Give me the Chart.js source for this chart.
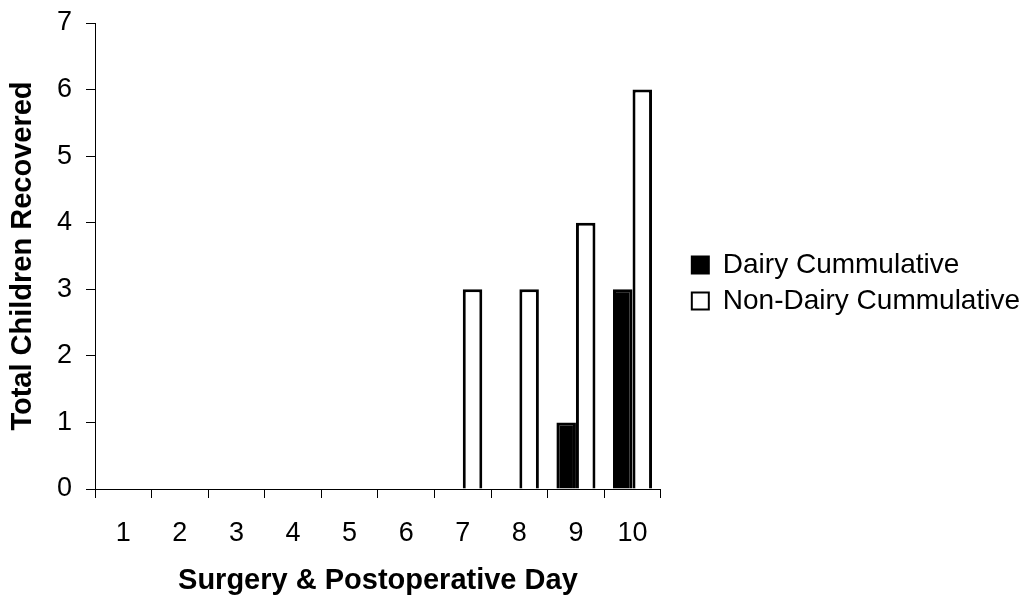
<!DOCTYPE html>
<html>
<head>
<meta charset="utf-8">
<script src="https://cdn.jsdelivr.net/npm/chart.js@4"></script>
<style>
  html, body { margin: 0; padding: 0; background: #fff; }
  #wrap { width: 1036px; height: 603px; }
</style>
</head>
<body>
<div id="wrap"><canvas id="myChart"></canvas></div>
<script>
const days = ['1', '2', '3', '4', '5', '6', '7', '8', '9', '10']
const dairy = [0, 0, 0, 0, 0, 0, 0, 0, 1, 3] // Dairy Cummulative
const nonDairy = [0, 0, 0, 0, 0, 0, 3, 3, 4, 6] // Non-Dairy Cummulative
const yTicks = [0, 1, 2, 3, 4, 5, 6, 7]

const FONT = 'Arial, "Liberation Sans", Helvetica, sans-serif'
Chart.defaults.font.family = FONT
Chart.defaults.color = '#000'

// nudge the legend block to where the original sits
const legendShift = { x: 23, y: -30 }
const moveLegend = {
  id: 'moveLegend',
  afterLayout(chart) {
    const lg = chart.legend
    lg.left += legendShift.x; lg.right += legendShift.x
    lg.top += legendShift.y; lg.bottom += legendShift.y
  }
}

const noZero = (c) => (c.raw === 0 ? 0 : 3)

const ctx = document.getElementById('myChart')

new Chart(ctx, {
  type: 'bar',
  data: {
    labels: days,
    datasets: [{
      label: 'Dairy Cummulative',
      data: dairy,
      backgroundColor: '#000',
      borderColor: '#000',
      borderWidth: noZero,
      borderSkipped: 'start'
    }, {
      label: 'Non-Dairy Cummulative',
      data: nonDairy,
      backgroundColor: '#fff',
      borderColor: '#000',
      borderWidth: noZero,
      borderSkipped: 'start'
    }]
  },
  options: {
    responsive: true,
    maintainAspectRatio: false,
    animation: false,
    barPercentage: 1,
    categoryPercentage: 0.69,
    layout: { padding: { top: 23, right: 29, bottom: 0, left: 0 } },
    plugins: {
      tooltip: { enabled: false },
      legend: {
        position: 'right',
        maxWidth: 400,
        labels: {
          boxWidth: 17,
          boxHeight: 17,
          padding: 8,
          font: { size: 28 },
          generateLabels(chart) {
            const items = Chart.defaults.plugins.legend.labels.generateLabels(chart)
            items.forEach((it) => { it.lineWidth = 2; it.strokeStyle = '#000' })
            return items
          }
        }
      }
    },
    scales: {
      x: {
        afterFit: (s) => { s.height = 114 },
        grid: { offset: true, drawOnChartArea: false, tickLength: 9, color: '#000' },
        border: { color: '#000', width: 1 },
        ticks: { font: { size: 27 }, padding: 19, maxRotation: 0 },
        title: {
          display: true,
          text: 'Surgery & Postoperative Day',
          font: { size: 29, weight: 'bold' },
          padding: { top: 0, bottom: 5 }
        }
      },
      y: {
        min: 0,
        max: 7,
        afterFit: (s) => { s.width = 95; s.paddingTop = 0; s.paddingBottom = 0 },
        afterBuildTicks: (s) => { s.ticks = yTicks.map((v) => ({ value: v })) },
        grid: { drawOnChartArea: false, tickLength: 9, color: '#000' },
        border: { color: '#000', width: 1 },
        ticks: { font: { size: 27 }, padding: 14 },
        title: {
          display: true,
          text: 'Total Children Recovered',
          font: { size: 29, weight: 'bold' },
          padding: { top: 6, bottom: 0 }
        }
      }
    }
  },
  plugins: [moveLegend]
})
</script>
</body>
</html>
